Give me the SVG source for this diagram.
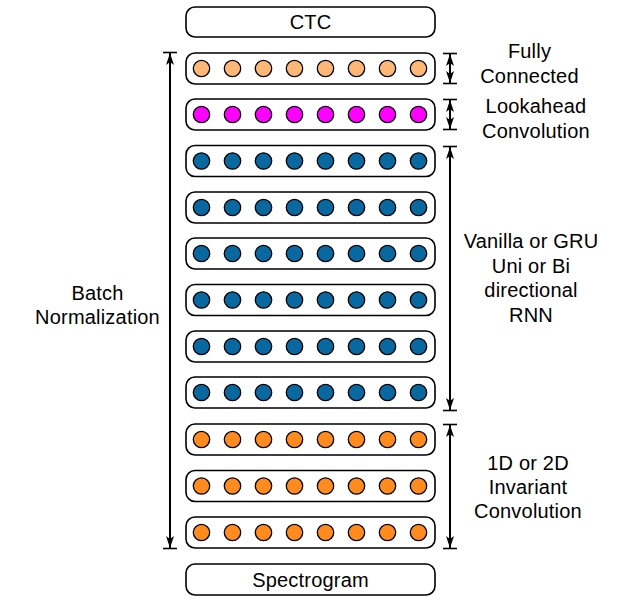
<svg xmlns="http://www.w3.org/2000/svg" width="639" height="614" viewBox="0 0 639 614">
<defs>
<style>
.box{fill:#fff;stroke:#000;stroke-width:1.6}
.c{stroke:#000;stroke-width:1.3}
.fc{fill:#FDB878}.la{fill:#FF00FF}.rnn{fill:#0A68A0}.cv{fill:#FF8A1E}
.lbl{font-family:"Liberation Sans",Arial,sans-serif;font-size:20px;letter-spacing:0.2px;fill:#000;text-anchor:middle}
.ar{stroke:#000;stroke-width:2;fill:none}
.tk{stroke:#000;stroke-width:1.6}
</style>
<marker id="ah" viewBox="0 0 12 8" refX="12" refY="4" markerWidth="12" markerHeight="8" markerUnits="userSpaceOnUse" orient="auto-start-reverse">
<path d="M0,0 L12,4 L0,8 L3,4 z" fill="#000"/>
</marker>
<g id="dots">
<circle class="c" cx="201.5" cy="0" r="8.2"/>
<circle class="c" cx="232.5" cy="0" r="8.2"/>
<circle class="c" cx="263.5" cy="0" r="8.2"/>
<circle class="c" cx="294.5" cy="0" r="8.2"/>
<circle class="c" cx="325.5" cy="0" r="8.2"/>
<circle class="c" cx="356.5" cy="0" r="8.2"/>
<circle class="c" cx="387.5" cy="0" r="8.2"/>
<circle class="c" cx="418.5" cy="0" r="8.2"/>
</g>
</defs>
<rect width="639" height="614" fill="#fff"/>

<g id="ctc">
<rect class="box" x="186" y="7" width="249" height="30" rx="9"/>
<text class="lbl" x="310.5" y="29">CTC</text>
</g>

<g id="fc-layer">
<rect class="box" x="186" y="53" width="249" height="31" rx="9"/>
<use href="#dots" y="68.5" class="fc"/>
</g>
<g id="la-layer">
<rect class="box" x="186" y="99" width="249" height="31" rx="9"/>
<use href="#dots" y="114.5" class="la"/>
</g>
<g id="rnn-layer1">
<rect class="box" x="186" y="145.5" width="249" height="31" rx="9"/>
<use href="#dots" y="161" class="rnn"/>
</g>
<g id="rnn-layer2">
<rect class="box" x="186" y="192" width="249" height="31" rx="9"/>
<use href="#dots" y="207.5" class="rnn"/>
</g>
<g id="rnn-layer3">
<rect class="box" x="186" y="238" width="249" height="31" rx="9"/>
<use href="#dots" y="253.5" class="rnn"/>
</g>
<g id="rnn-layer4">
<rect class="box" x="186" y="284.5" width="249" height="31" rx="9"/>
<use href="#dots" y="300" class="rnn"/>
</g>
<g id="rnn-layer5">
<rect class="box" x="186" y="331" width="249" height="31" rx="9"/>
<use href="#dots" y="346.5" class="rnn"/>
</g>
<g id="rnn-layer6">
<rect class="box" x="186" y="377" width="249" height="31" rx="9"/>
<use href="#dots" y="392.5" class="rnn"/>
</g>
<g id="conv-layer1">
<rect class="box" x="186" y="424" width="249" height="31" rx="9"/>
<use href="#dots" y="439.5" class="cv"/>
</g>
<g id="conv-layer2">
<rect class="box" x="186" y="470.5" width="249" height="31" rx="9"/>
<use href="#dots" y="486" class="cv"/>
</g>
<g id="conv-layer3">
<rect class="box" x="186" y="517" width="249" height="31" rx="9"/>
<use href="#dots" y="532.5" class="cv"/>
</g>

<g id="spectrogram">
<rect class="box" x="186" y="564" width="249" height="31" rx="9"/>
<text class="lbl" x="310.5" y="587">Spectrogram</text>
</g>

<g id="connectors">
<line class="ar" x1="170" y1="53" x2="170" y2="548" marker-start="url(#ah)" marker-end="url(#ah)"/>
<line class="tk" x1="163" y1="52.5" x2="177" y2="52.5"/>
<line class="tk" x1="163" y1="548.5" x2="177" y2="548.5"/>

<line class="ar" x1="450" y1="54" x2="450" y2="83" marker-start="url(#ah)" marker-end="url(#ah)"/>
<line class="tk" x1="443" y1="53.5" x2="457" y2="53.5"/>
<line class="tk" x1="443" y1="83.5" x2="457" y2="83.5"/>

<line class="ar" x1="450" y1="100" x2="450" y2="129" marker-start="url(#ah)" marker-end="url(#ah)"/>
<line class="tk" x1="443" y1="99.5" x2="457" y2="99.5"/>
<line class="tk" x1="443" y1="129.5" x2="457" y2="129.5"/>

<line class="ar" x1="450" y1="147" x2="450" y2="410" marker-start="url(#ah)" marker-end="url(#ah)"/>
<line class="tk" x1="443" y1="146.5" x2="457" y2="146.5"/>
<line class="tk" x1="443" y1="410.5" x2="457" y2="410.5"/>

<line class="ar" x1="450" y1="425" x2="450" y2="548" marker-start="url(#ah)" marker-end="url(#ah)"/>
<line class="tk" x1="443" y1="424.5" x2="457" y2="424.5"/>
<line class="tk" x1="443" y1="548.5" x2="457" y2="548.5"/>
</g>

<g id="labels">
<text class="lbl" x="529.5" y="58">Fully</text>
<text class="lbl" x="529.5" y="83">Connected</text>
<text class="lbl" x="536" y="113">Lookahead</text>
<text class="lbl" x="536" y="138">Convolution</text>
<text class="lbl" x="531" y="248">Vanilla or GRU</text>
<text class="lbl" x="531" y="273">Uni or Bi</text>
<text class="lbl" x="531" y="297">directional</text>
<text class="lbl" x="531" y="322">RNN</text>
<text class="lbl" x="528" y="470">1D or 2D</text>
<text class="lbl" x="528" y="494">Invariant</text>
<text class="lbl" x="528" y="518">Convolution</text>
<text class="lbl" x="97.5" y="300">Batch</text>
<text class="lbl" x="97.5" y="324">Normalization</text>
</g>
</svg>
